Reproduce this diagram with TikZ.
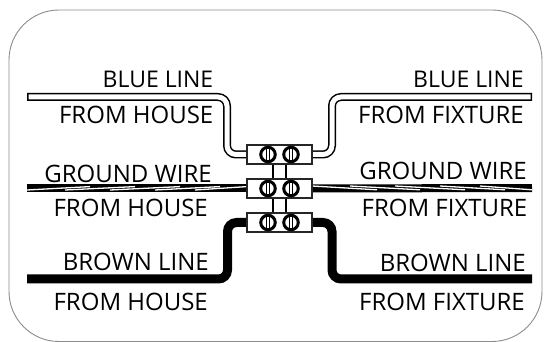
\documentclass[tikz,border=0pt]{standalone}
\usepackage{fontspec}
\setmainfont{Open Sans}
\begin{document}
\begin{tikzpicture}[x=1pt,y=-1pt,
  lbl/.style={font=\fontsize{24}{26}\selectfont,inner sep=0pt,text=black},
  lblS/.style={font=\fontsize{23}{25}\selectfont,inner sep=0pt,text=black},
  lblL/.style={lbl,anchor=base east},
  lblR/.style={lbl,anchor=base east},
  termbox/.style={draw=black!85,line width=1.3pt,fill=white,minimum width=65pt,minimum height=19pt,inner sep=0pt},
  screw/.style={circle,draw=black,line width=3pt,fill=white,minimum size=14.5pt,inner sep=0pt},
  frame/.style={draw=black!45,line width=0.9pt,rounded corners=50pt},
  wireout/.style={draw=black,line width=8pt,rounded corners=9pt},
  wirein/.style={draw=white,line width=5pt,rounded corners=9pt},
  brownw/.style={draw=black,line width=9pt,rounded corners=9pt},
  strap/.style={draw=black,line width=1.3pt}]
\useasboundingbox (0,0) rectangle (547,342);
\fill[white] (0,0) rectangle (547,342);
\draw[frame] (9,10) rectangle (542,341.5);

% terminals
\node[termbox] (t1) at (279.5,154.5) {};
\node[termbox] (t2) at (279.5,188.5) {};
\node[termbox] (t3) at (279.5,222.5) {};
% free wire ends
\coordinate (bl) at (27,97);
\coordinate (br) at (532,97);
\coordinate (gl) at (27,188.5);
\coordinate (gr) at (532,188);
\coordinate (wl) at (27,279);
\coordinate (wr) at (532,279);

% blue wires
\draw[wireout] (bl) -- (227,97) -- (227,154.5) -- (t1.west);
\draw[wirein] (28.5,97) -- (227,97) -- (227,154.5) -- (t1.west);
\draw[wireout] (br) -- (332,97) -- (332,154.5) -- (t1.east);
\draw[wirein] (530.5,97) -- (332,97) -- (332,154.5) -- (t1.east);

% ground wires
\draw[draw=black,line width=8pt] (gl) -- (t2.west);
\draw[draw=black,line width=8pt] (gr) -- (t2.east);
\foreach \xa/\xb in {27/90,65/135,110/180,155/220,195/247}{
  \draw[white,line width=1.3pt] (\xa,190) -- (\xb,186.6);
}
\foreach \xa/\xb in {312/377,350/420,395/465,440/505,480/532}{
  \draw[white,line width=1.3pt] (\xa,186) -- (\xb,189.8);
}

% brown wires
\draw[brownw] (wl) -- (227.5,279) -- (227.5,222.5) -- (t3.west);
\draw[brownw] (wr) -- (332,279) -- (332,222.5) -- (t3.east);

% straps
\draw[strap] (273,164) -- (273,179) (286,164) -- (286,179);
\draw[strap] (273,198) -- (273,213) (286,198) -- (286,213);

% boxes on top again
\node[termbox] at (t1) {};
\node[termbox] at (t2) {};
\node[termbox] at (t3) {};

% screws
\foreach \n/\y in {a/154.5,b/188.5,c/222.5}{
  \node[screw] (s\n1) at (268,\y) {};
  \node[screw] (s\n2) at (291,\y) {};
  \draw[black,line width=1.2pt] (266.3,\y-7) -- (266.3,\y+7) (269.7,\y-7) -- (269.7,\y+7);
  \draw[black,line width=1.2pt] (289.3,\y-7) -- (289.3,\y+7) (292.7,\y-7) -- (292.7,\y+7);
}

% labels
\node[lblL,lblS] (l1) at (213.5,88) {BLUE LINE};
\node[lblL] (l2) at (213.5,124) {FROM HOUSE};
\node[lblL] (l3) at (212,183) {GROUND WIRE};
\node[lblL] (l4) at (208,217) {FROM HOUSE};
\node[lblL] (l5) at (209,270.5) {BROWN LINE};
\node[lblL] (l6) at (208,310) {FROM HOUSE};
\node[lblR,lblS] (r1) at (524,88) {BLUE LINE};
\node[lblR] (r2) at (524,124) {FROM FIXTURE};
\node[lblR] (r3) at (527,180) {GROUND WIRE};
\node[lblR] (r4) at (527.5,217) {FROM FIXTURE};
\node[lblR] (r5) at (526,271.5) {BROWN LINE};
\node[lblR] (r6) at (525,310) {FROM FIXTURE};
\end{tikzpicture}
\end{document}
